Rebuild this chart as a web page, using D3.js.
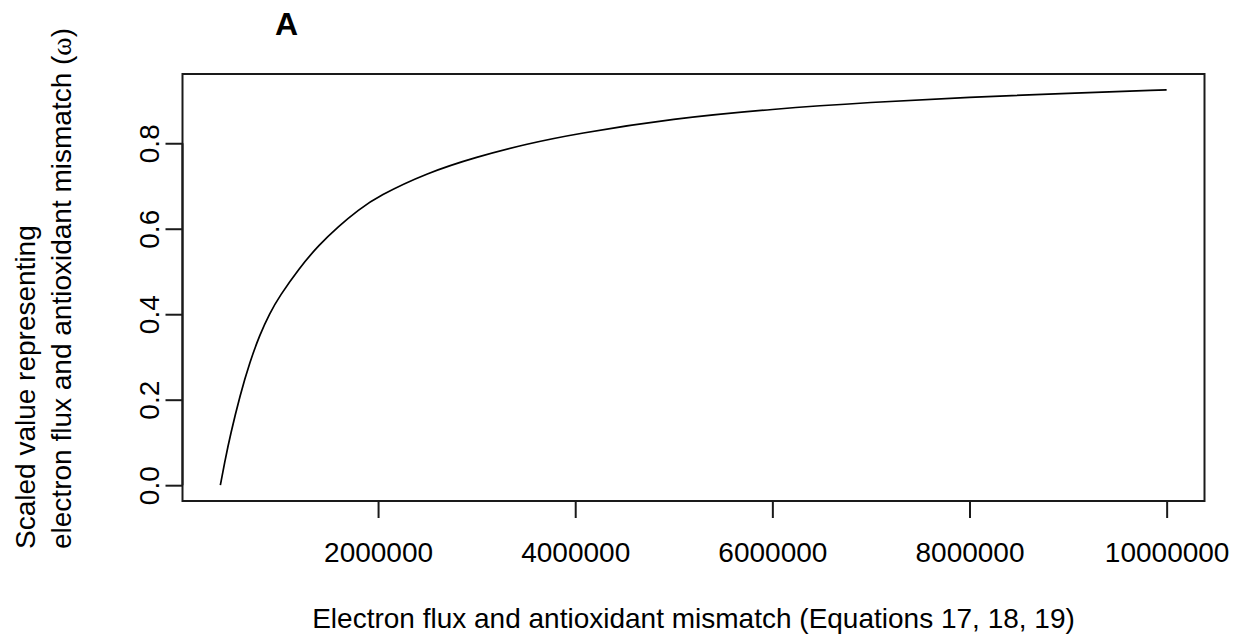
<!DOCTYPE html>
<html>
<head>
<meta charset="utf-8">
<script src="https://cdn.jsdelivr.net/npm/d3@7"></script>
<style>
  html, body { margin: 0; padding: 0; background: #ffffff; }
  svg { display: block; }
  text { font-family: "Liberation Sans", Arial, Helvetica, sans-serif; fill: #000; }
</style>
</head>
<body>
<svg id="chart" width="1233" height="639"></svg>
<script>
// Electron flux / antioxidant mismatch (x) and its scaled value omega (y)
const fluxValues = [400000, 450000, 500000, 600000, 700000, 800000, 900000, 1000000,
  1200000, 1400000, 1600000, 1800000, 2000000, 2500000, 3000000, 3500000, 4000000,
  5000000, 6000000, 7000000, 8000000, 9000000, 10000000];
const omegaValues = [0.000, 0.061, 0.116, 0.211, 0.289, 0.352, 0.402, 0.442,
  0.508, 0.562, 0.606, 0.644, 0.676, 0.731, 0.768, 0.798, 0.822,
  0.858, 0.880, 0.896, 0.908, 0.917, 0.925];

const xTicks = [2000000, 4000000, 6000000, 8000000, 10000000];
const yTicks = [0.0, 0.2, 0.4, 0.6, 0.8];

const panelLabel = "A";
const xTitle = "Electron flux and antioxidant mismatch (Equations 17, 18, 19)";
const yTitleLine1 = "Scaled value representing";
const yTitleLine2 = "electron flux and antioxidant mismatch ";

const points = fluxValues.map((x, i) => ({ x, y: omegaValues[i] }));

const svg = d3.select("#chart");
const box = { left: 182.5, right: 1204.5, top: 74, bottom: 501 };

// base-graphics style 4% padding around the data range
const xExt = d3.extent(fluxValues), yExt = d3.extent(omegaValues);
const xPad = (xExt[1] - xExt[0]) * 0.04, yPad = (yExt[1] - yExt[0]) * 0.04;

const x = d3.scaleLinear()
  .domain([xExt[0] - xPad, xExt[1] + xPad])
  .range([box.left, box.right]);
const y = d3.scaleLinear()
  .domain([yExt[0] - yPad, yExt[1] + yPad])
  .range([box.bottom, box.top]);

// curve
svg.append("path")
  .datum(points)
  .attr("fill", "none")
  .attr("stroke", "#000")
  .attr("stroke-width", 1.7)
  .attr("d", d3.line().x(d => x(d.x)).y(d => y(d.y)).curve(d3.curveBasis));

// plot frame
svg.append("rect")
  .attr("x", box.left).attr("y", box.top)
  .attr("width", box.right - box.left).attr("height", box.bottom - box.top)
  .attr("fill", "none").attr("stroke", "#1a1a1a").attr("stroke-width", 2);

// x axis
const xAxis = svg.append("g")
  .attr("transform", `translate(0,${box.bottom})`)
  .call(d3.axisBottom(x).tickValues(xTicks).tickFormat(d3.format("d"))
    .tickSize(17).tickPadding(24));
xAxis.select(".domain")
  .attr("d", `M${x(xTicks[0])},0H${x(xTicks[xTicks.length - 1])}`)
  .attr("stroke", "#1a1a1a").attr("stroke-width", 2);
xAxis.selectAll(".tick line").attr("stroke", "#1a1a1a").attr("stroke-width", 2);
xAxis.selectAll(".tick text")
  .attr("font-size", 28)
  .attr("font-family", "Liberation Sans, Arial, sans-serif")
  .attr("fill", "#000");

// y axis, labels parallel to the axis
const yAxis = svg.append("g")
  .attr("transform", `translate(${box.left},0)`)
  .call(d3.axisLeft(y).tickValues(yTicks).tickFormat(d3.format(".1f")).tickSize(17));
yAxis.select(".domain")
  .attr("d", `M0,${y(yTicks[0])}V${y(yTicks[yTicks.length - 1])}`)
  .attr("stroke", "#1a1a1a").attr("stroke-width", 2);
yAxis.selectAll(".tick line").attr("stroke", "#1a1a1a").attr("stroke-width", 2);
yAxis.selectAll(".tick text")
  .attr("font-size", 28)
  .attr("font-family", "Liberation Sans, Arial, sans-serif")
  .attr("fill", "#000")
  .attr("x", null).attr("dy", null)
  .attr("text-anchor", "middle")
  .attr("transform", "translate(-24,0) rotate(-90)");

// axis titles
svg.append("text")
  .attr("x", (box.left + box.right) / 2)
  .attr("y", 628)
  .attr("text-anchor", "middle")
  .attr("font-size", 28)
  .text(xTitle);

const yTitle = svg.append("g");
yTitle.append("text")
  .attr("transform", "translate(35,549) rotate(-90)")
  .attr("text-anchor", "start")
  .attr("font-size", 28)
  .text(yTitleLine1);
const t2 = yTitle.append("text")
  .attr("transform", "translate(71,549) rotate(-90)")
  .attr("text-anchor", "start")
  .attr("font-size", 28);
t2.append("tspan").text(yTitleLine2 + "(");
t2.append("tspan").attr("font-family", "Liberation Serif, DejaVu Serif, serif").text("ω");
t2.append("tspan").text(")");

// panel label
svg.append("text")
  .attr("x", 275)
  .attr("y", 35)
  .attr("font-size", 32)
  .attr("font-weight", "bold")
  .text(panelLabel);
</script>
</body>
</html>
